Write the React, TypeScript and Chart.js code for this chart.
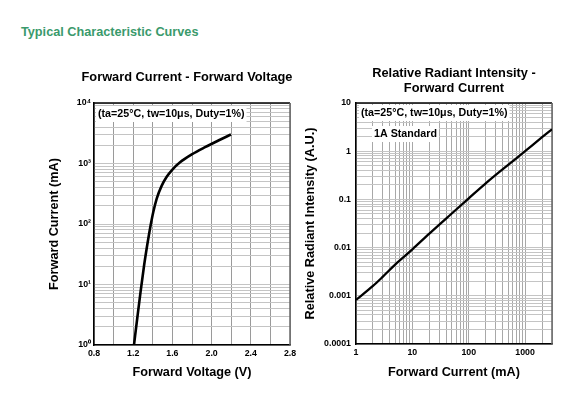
import React, { useEffect, useRef } from "react";
import { Chart, registerables } from "chart.js";

Chart.register(...registerables);

const FONT = "'Liberation Sans', Arial, Helvetica, sans-serif";

// ---- Left chart: Forward Current vs Forward Voltage ----
const VF_TITLE = ["Forward Current - Forward Voltage"];
const VF_VOLTAGE = [1.208, 1.242, 1.276, 1.31, 1.344, 1.371, 1.405, 1.44, 1.49, 1.542, 1.6, 1.678, 1.797, 1.933, 2.069, 2.198];
const VF_CURRENT = [1, 2.82, 7.76, 20, 45.7, 83, 158, 263, 427, 603, 794, 1047, 1413, 1862, 2399, 3020];
const VF_X_GRID = [0.8, 1.0, 1.2, 1.4, 1.6, 1.8, 2.0, 2.2, 2.4, 2.6, 2.8];
const VF_X_LABELS = ["0.8", "", "1.2", "", "1.6", "", "2.0", "", "2.4", "", "2.8"];
const VF_Y_DECADES = [1, 10, 100, 1000, 10000];
const VF_Y_LABELS = ["10\u2070", "10\u00B9", "10\u00B2", "10\u00B3", "10\u2074"];

// ---- Right chart: Relative Radiant Intensity vs Forward Current ----
const RI_TITLE = ["Relative Radiant Intensity -", "Forward Current"];
const RI_CURRENT = [1, 2, 3, 5, 10, 20, 50, 100, 200, 500, 1000, 2000, 3000];
const RI_INTENSITY = [0.00082, 0.0016, 0.0025, 0.0045, 0.0092, 0.0195, 0.051, 0.105, 0.215, 0.52, 1.0, 1.95, 2.85];
const RI_X_DECADES = [1, 10, 100, 1000];
const RI_X_LABELS = ["1", "10", "100", "1000"];
const RI_Y_DECADES = [0.0001, 0.001, 0.01, 0.1, 1, 10];
const RI_Y_LABELS = ["0.0001", "0.001", "0.01", "0.1", "1", "10"];

const CONDITIONS = "(ta=25\u00B0C, tw=10\u03BCs, Duty=1%)";
const STANDARD = "1A Standard";

function logGrid(min: number, max: number): number[] {
  const out: number[] = [];
  const lo = Math.floor(Math.log10(min) + 1e-9);
  const hi = Math.ceil(Math.log10(max) - 1e-9);
  for (let d = lo; d <= hi; d++) {
    for (let m = 1; m <= 9; m++) {
      const v = Number((m * Math.pow(10, d)).toPrecision(6));
      if (v >= min * (1 - 1e-9) && v <= max * (1 + 1e-9)) out.push(v);
    }
  }
  return out;
}

function labelFor(value: number, decades: number[], labels: string[]): string {
  for (let i = 0; i < decades.length; i++) {
    if (Math.abs(Math.log10(value) - Math.log10(decades[i])) < 1e-6) return labels[i];
  }
  return "";
}

type Note = { text: string; x: number; y: number };

function makeFramePlugin(notes: Note[], title: string[], titleY: number, titleShift: number) {
  return {
    id: "frameNotes",
    beforeDatasetsDraw(chart: any) {
      const { ctx, chartArea } = chart;
      const { left, right, top, bottom } = chartArea;
      ctx.save();
      ctx.strokeStyle = "#000";
      ctx.lineWidth = 1.5;
      ctx.beginPath();
      ctx.moveTo(left, top);
      ctx.lineTo(right, top);
      ctx.stroke();
      ctx.strokeStyle = "#666";
      ctx.lineWidth = 1.5;
      ctx.beginPath();
      ctx.moveTo(right, top);
      ctx.lineTo(right, bottom);
      ctx.stroke();
      ctx.font = `bold 10.7px ${FONT}`;
      ctx.textBaseline = "middle";
      ctx.textAlign = "left";
      for (const n of notes) {
        const w = ctx.measureText(n.text).width;
        ctx.fillStyle = "#fff";
        ctx.fillRect(n.x - 2, n.y - 8, w + 4, 16);
        ctx.fillStyle = "#000";
        ctx.fillText(n.text, n.x, n.y);
      }
      ctx.font = `bold 12.8px ${FONT}`;
      ctx.textAlign = "center";
      ctx.fillStyle = "#000";
      const cx = (left + right) / 2 + titleShift;
      title.forEach((line, i) => ctx.fillText(line, cx, titleY + i * 15));
      ctx.restore();
    },
  };
}

function VFChart() {
  const ref = useRef<HTMLCanvasElement | null>(null);
  useEffect(() => {
    if (!ref.current) return;
    const yGrid = logGrid(1, 10000);
    const chart = new Chart(ref.current, {
      type: "line",
      data: {
        datasets: [
          {
            data: VF_VOLTAGE.map((v, i) => ({ x: v, y: VF_CURRENT[i] })),
            borderColor: "#000",
            borderWidth: 2.6,
            pointRadius: 0,
            cubicInterpolationMode: "monotone",
            fill: false,
          },
        ],
      },
      options: {
        responsive: false,
        animation: false,
        layout: { padding: { left: 0, right: 10, top: 103, bottom: 0 } },
        plugins: {
          legend: { display: false },
          tooltip: { enabled: false },
          title: { display: false },
        },
        scales: {
          x: {
            type: "linear",
            min: 0.8,
            max: 2.8,
            afterBuildTicks: (s: any) => {
              s.ticks = VF_X_GRID.map((v) => ({ value: v }));
            },
            afterFit: (s: any) => {
              s.height = 50;
            },
            ticks: {
              autoSkip: false,
              maxRotation: 0,
              padding: 3,
              color: "#000",
              font: { family: FONT, size: 8.8, weight: "bold" },
              callback: (_v: any, i: number) => VF_X_LABELS[i],
            },
            grid: { color: "#9a9a9a", lineWidth: 1, drawTicks: false },
            border: { color: "#000", width: 1.5 },
            title: {
              display: true,
              text: "Forward Voltage (V)",
              color: "#000",
              font: { family: FONT, size: 12.7, weight: "bold" },
              padding: { top: 0, bottom: 14.4 },
            },
          },
          y: {
            type: "logarithmic",
            min: 1,
            max: 10000,
            afterBuildTicks: (s: any) => {
              s.ticks = yGrid.map((v) => ({ value: v }));
            },
            afterFit: (s: any) => {
              s.width = 94;
            },
            ticks: {
              autoSkip: false,
              padding: 3,
              color: "#000",
              font: { family: FONT, size: 8.8, weight: "bold" },
              callback: (v: any) => labelFor(Number(v), VF_Y_DECADES, VF_Y_LABELS),
            },
            grid: { color: "#c4c4c4", lineWidth: 1, drawTicks: false },
            border: { color: "#000", width: 1.5 },
            title: {
              display: true,
              text: "Forward Current (mA)",
              color: "#000",
              font: { family: FONT, size: 12.7, weight: "bold" },
              padding: { top: 46.4, bottom: 0 },
            },
          },
        },
      },
      plugins: [makeFramePlugin([{ text: CONDITIONS, x: 98, y: 114 }], VF_TITLE, 77, -5)],
    } as any);
    return () => chart.destroy();
  }, []);
  return <canvas ref={ref} width={300} height={395} style={{ display: "block" }} />;
}

function RIChart() {
  const ref = useRef<HTMLCanvasElement | null>(null);
  useEffect(() => {
    if (!ref.current) return;
    const xGrid = logGrid(1, 3000);
    const yGrid = logGrid(0.0001, 10);
    const chart = new Chart(ref.current, {
      type: "line",
      data: {
        datasets: [
          {
            data: RI_CURRENT.map((v, i) => ({ x: v, y: RI_INTENSITY[i] })),
            borderColor: "#000",
            borderWidth: 2.3,
            pointRadius: 0,
            cubicInterpolationMode: "monotone",
            fill: false,
          },
        ],
      },
      options: {
        responsive: false,
        animation: false,
        layout: { padding: { left: 0, right: 30, top: 103, bottom: 0 } },
        plugins: {
          legend: { display: false },
          tooltip: { enabled: false },
          title: { display: false },
        },
        scales: {
          x: {
            type: "logarithmic",
            min: 1,
            max: 3000,
            afterBuildTicks: (s: any) => {
              s.ticks = xGrid.map((v) => ({ value: v }));
            },
            afterFit: (s: any) => {
              s.height = 51;
            },
            ticks: {
              autoSkip: false,
              maxRotation: 0,
              padding: 3,
              color: "#000",
              font: { family: FONT, size: 8.8, weight: "bold" },
              callback: (v: any) => labelFor(Number(v), RI_X_DECADES, RI_X_LABELS),
            },
            grid: { color: "#a8a8a8", lineWidth: 1, drawTicks: false },
            border: { color: "#000", width: 1.5 },
            title: {
              display: true,
              text: "Forward Current (mA)",
              color: "#000",
              font: { family: FONT, size: 12.7, weight: "bold" },
              padding: { top: 0, bottom: 14.4 },
            },
          },
          y: {
            type: "logarithmic",
            min: 0.0001,
            max: 10,
            afterBuildTicks: (s: any) => {
              s.ticks = yGrid.map((v) => ({ value: v }));
            },
            afterFit: (s: any) => {
              s.width = 56;
            },
            ticks: {
              autoSkip: false,
              padding: 5,
              color: "#000",
              font: { family: FONT, size: 8.8, weight: "bold" },
              callback: (v: any) => labelFor(Number(v), RI_Y_DECADES, RI_Y_LABELS),
            },
            grid: { color: "#c4c4c4", lineWidth: 1, drawTicks: false },
            border: { color: "#000", width: 1.5 },
            title: {
              display: true,
              text: "Relative Radiant Intensity (A.U.)",
              color: "#000",
              font: { family: FONT, size: 12.7, weight: "bold" },
              padding: { top: 2.4, bottom: 0 },
            },
          },
        },
      },
      plugins: [
        makeFramePlugin(
          [
            { text: CONDITIONS, x: 61, y: 113 },
            { text: STANDARD, x: 74, y: 134 },
          ],
          RI_TITLE,
          73,
          0
        ),
      ],
    } as any);
    return () => chart.destroy();
  }, []);
  return <canvas ref={ref} width={282} height={395} style={{ display: "block" }} />;
}

export default function App() {
  return (
    <div
      style={{
        position: "absolute",
        left: 0,
        top: 0,
        width: 582,
        height: 395,
        background: "#fff",
        overflow: "hidden",
      }}
    >
      <div
        style={{
          position: "absolute",
          left: 21,
          top: 24,
          fontFamily: FONT,
          fontWeight: "bold",
          fontSize: "12.7px",
          lineHeight: "16px",
          color: "#3a9a6c",
          whiteSpace: "nowrap",
        }}
      >
        Typical Characteristic Curves
      </div>
      <div style={{ position: "absolute", left: 0, top: 0 }}>
        <VFChart />
      </div>
      <div style={{ position: "absolute", left: 300, top: 0 }}>
        <RIChart />
      </div>
    </div>
  );
}
